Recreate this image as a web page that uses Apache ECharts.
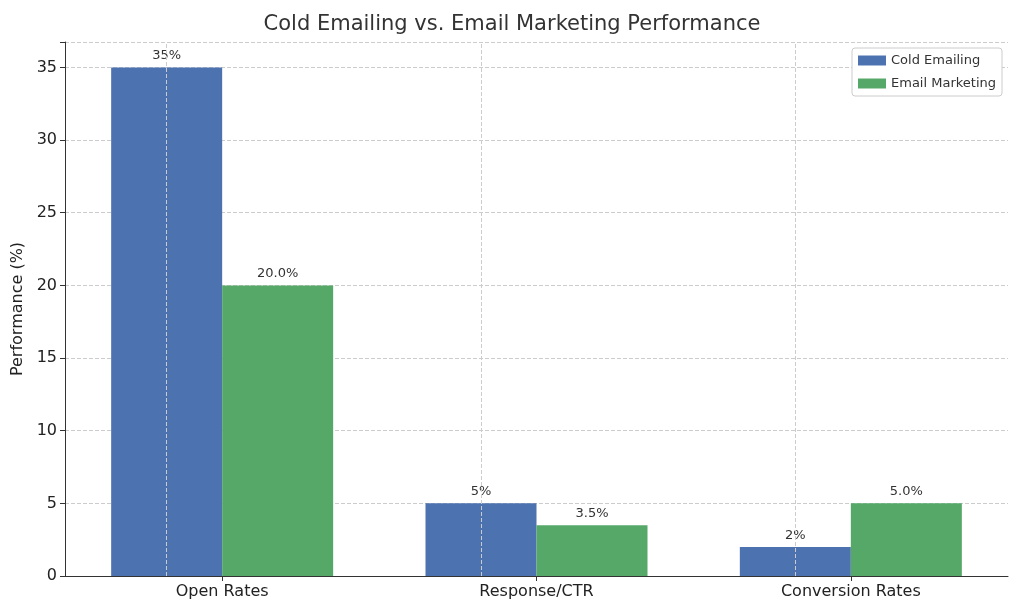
<!DOCTYPE html><html><head><meta charset="utf-8">
<script src="https://cdn.jsdelivr.net/npm/echarts@6/dist/echarts.min.js"></script>
<style>html,body{margin:0;padding:0;background:#fff}#c{width:1024px;height:614px}</style></head>
<body><div id="c"></div><script>
const categories = ['Open Rates','Response/CTR','Conversion Rates'];
const coldValues = [35,5,2];
const marketingValues = [20,3.5,5];
const coldLabels = ['35%','5%','2%'];
const marketingLabels = ['20.0%','3.5%','5.0%'];
const yTicks = [0,5,10,15,20,25,30,35];
const font = 'DejaVu Sans';
const chart = echarts.init(document.getElementById('c'));
function lab(arr){return {show:true,position:'top',distance:5,fontFamily:font,fontSize:13,color:'#333',formatter:p=>arr[p.dataIndex]};}
chart.setOption({
  animation:false,
  title:{text:'Cold Emailing vs. Email Marketing Performance',left:'center',top:9,textStyle:{fontFamily:font,fontSize:21,fontWeight:'normal',color:'#333'}},
  legend:{right:22,top:48,orient:'vertical',itemWidth:28,itemHeight:10,itemGap:10,textStyle:{fontFamily:font,fontSize:13,color:'#333'},
    backgroundColor:'#fff',borderColor:'#ccc',borderWidth:1,borderRadius:3,padding:[6,6,6,6],icon:'rect'},
  grid:{left:65,right:16,top:42,bottom:38},
  xAxis:{type:'category',data:categories,axisTick:{show:true,alignWithLabel:true,length:5,lineStyle:{color:'#333'}},
    axisLine:{lineStyle:{color:'#333'}},axisLabel:{fontFamily:font,fontSize:16,color:'#222',margin:8},splitLine:{show:false}},
  yAxis:{type:'value',min:0,max:36.75,interval:5,name:'Performance (%)',nameLocation:'middle',nameGap:38,
    nameTextStyle:{fontFamily:font,fontSize:16,color:'#222'},
    axisLine:{show:true,lineStyle:{color:'#333'}},axisTick:{show:true,length:5,lineStyle:{color:'#333'}},
    axisLabel:{fontFamily:font,fontSize:16,color:'#222',formatter:v=>yTicks.includes(v)?String(v):''},
    splitLine:{lineStyle:{color:'#ccc',type:'dashed'}}},
  series:[
    {name:'Cold Emailing',type:'bar',data:coldValues,barWidth:111,barGap:'0%',itemStyle:{color:'#4c72b0'},label:lab(coldLabels),
     markLine:{silent:true,symbol:'none',label:{show:false},lineStyle:{color:'#ccc',type:'dashed',width:1},data:categories.map(c=>({xAxis:c}))}},
    {name:'Email Marketing',type:'bar',data:marketingValues,barWidth:111,itemStyle:{color:'#55a868'},label:lab(marketingLabels)}
  ]
});
</script></body></html>
